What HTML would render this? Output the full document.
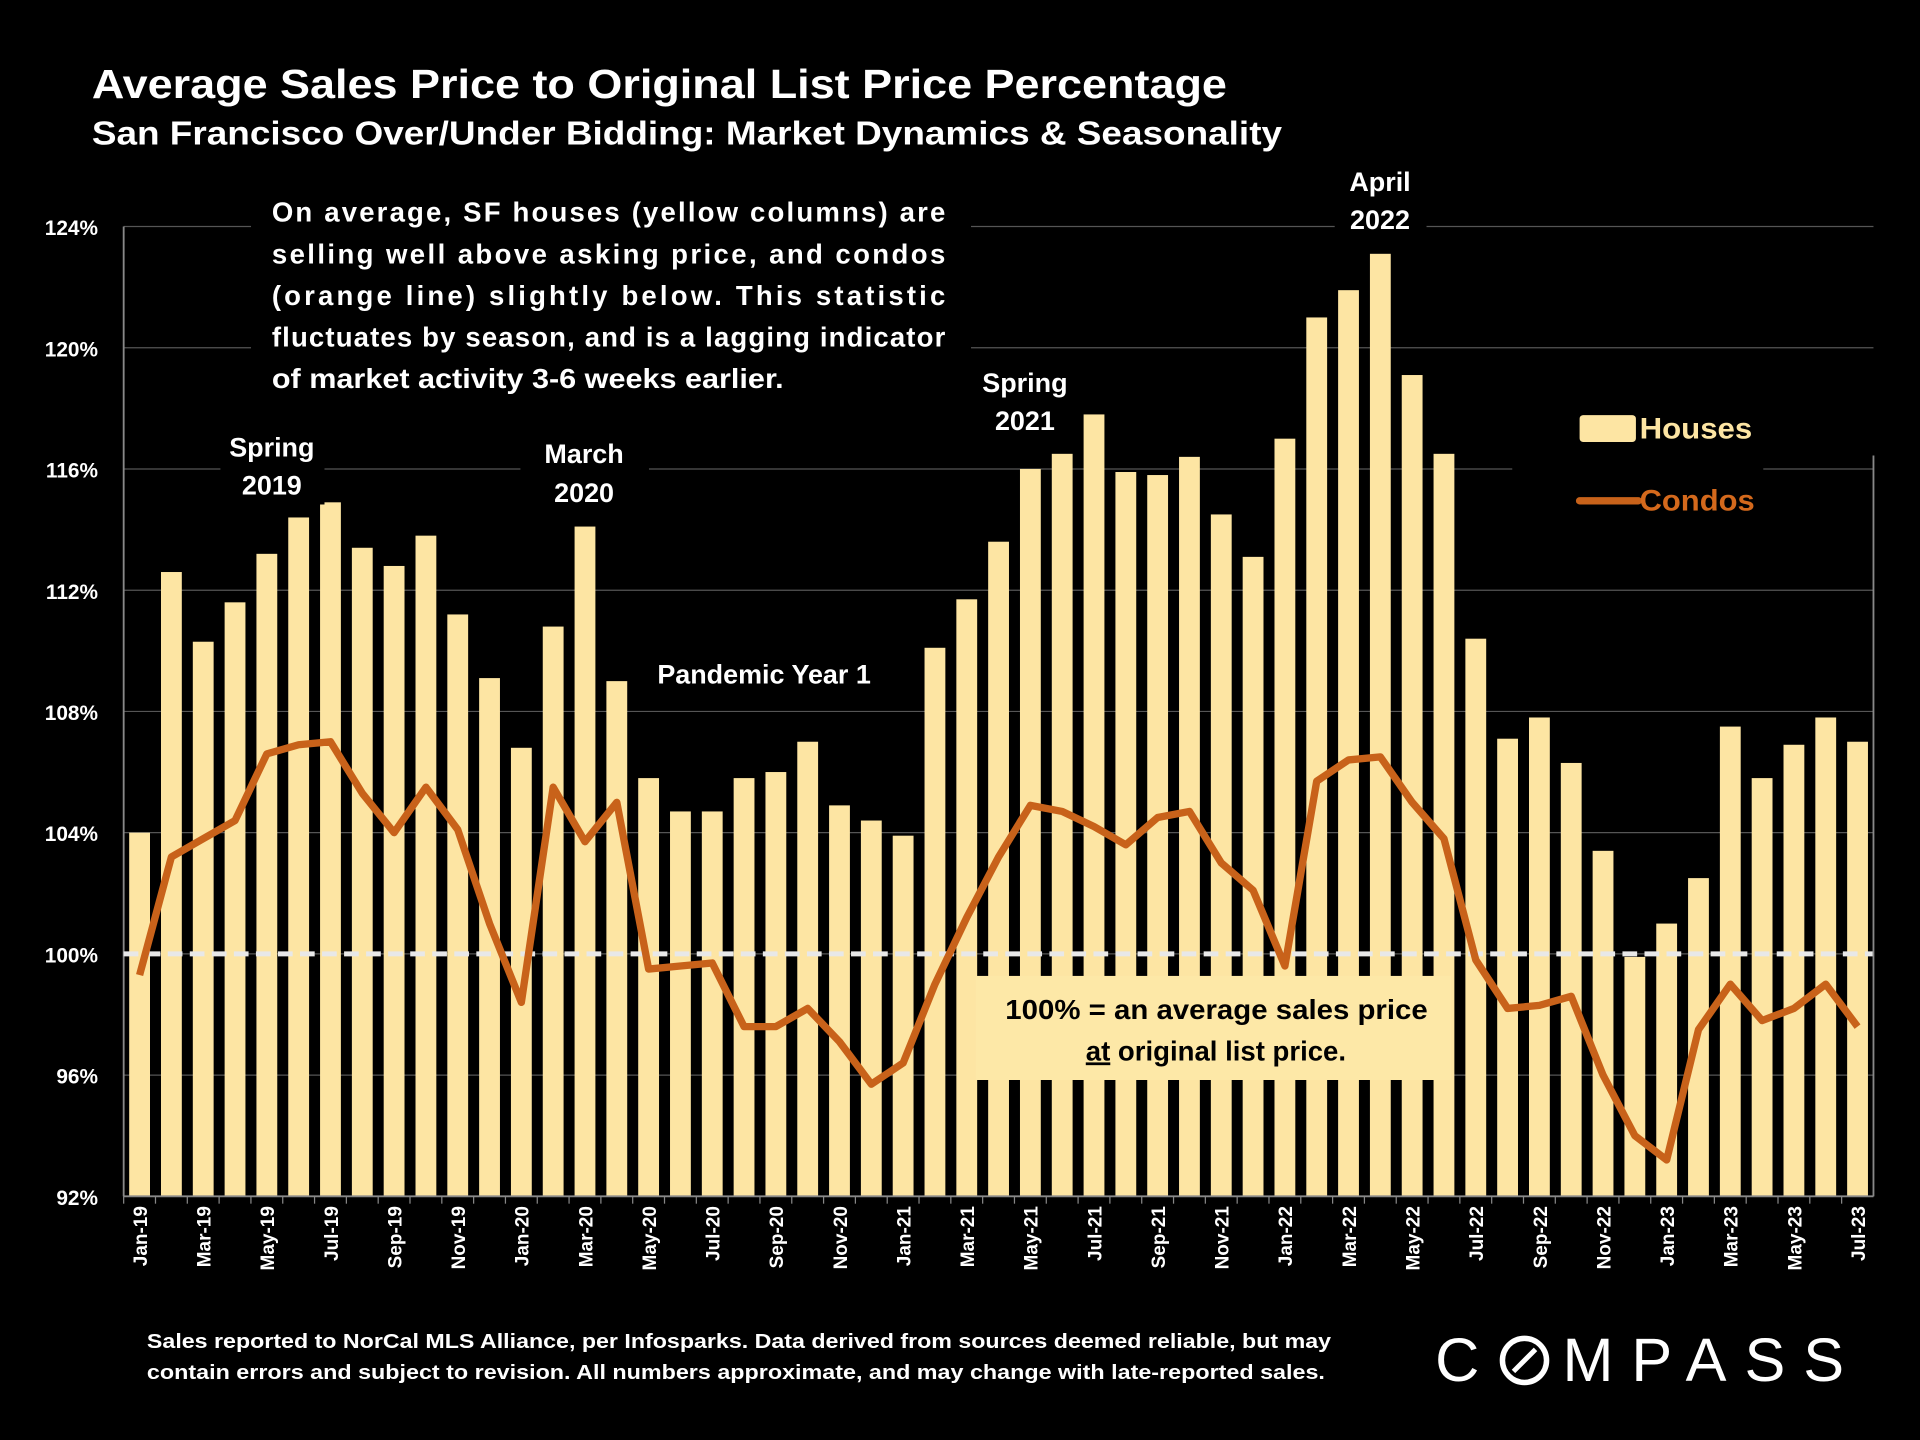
<!DOCTYPE html>
<html><head><meta charset="utf-8"><style>
html,body{margin:0;padding:0;background:#000;}
svg{display:block;font-family:"Liberation Sans",sans-serif;}
</style></head><body>
<svg id="chart" width="1920" height="1440" viewBox="0 0 1568 1176" xmlns="http://www.w3.org/2000/svg">
<rect width="1568" height="1176" fill="#000"/>
<text x="75" y="80" fill="#fff" font-size="33" font-weight="bold" textLength="927" lengthAdjust="spacingAndGlyphs">Average Sales Price to Original List Price Percentage</text>
<text x="75" y="118" fill="#fff" font-size="27" font-weight="bold" textLength="972" lengthAdjust="spacingAndGlyphs">San Francisco Over/Under Bidding: Market Dynamics &amp; Seasonality</text>
<g id="grid"></g>
<g id="yticks"></g>
<g id="bars"></g>
<line id="ref100" stroke="#e8e8e8" stroke-width="4" stroke-dasharray="12,6"/>
<polyline id="condo" fill="none" stroke="#c8621a" stroke-width="6" stroke-linejoin="round"/>
<g id="xaxis"></g>
<line x1="1530" y1="372" x2="1530" y2="977" stroke="#888" stroke-width="1.5"/>

<g>
<rect x="205" y="152" width="588" height="176" fill="#000"/>
<g fill="#fff" font-size="22.5" font-weight="bold">
<text x="222" y="181" textLength="550" lengthAdjust="spacing">On average, SF houses (yellow columns) are</text>
<text x="222" y="215" textLength="550" lengthAdjust="spacing">selling well above asking price, and condos</text>
<text x="222" y="249" textLength="550" lengthAdjust="spacing">(orange line) slightly below. This statistic</text>
<text x="222" y="283" textLength="550" lengthAdjust="spacing">fluctuates by season, and is a lagging indicator</text>
<text x="222" y="317" textLength="418" lengthAdjust="spacingAndGlyphs">of market activity 3-6 weeks earlier.</text>
</g></g>

<g fill="#fff" font-size="22" font-weight="bold" text-anchor="middle">
<g><rect x="180" y="350" width="85" height="62" fill="#000"/><text x="222" y="373">Spring</text><text x="222" y="404">2019</text></g>
<g><rect x="425" y="355" width="105" height="62" fill="#000"/><text x="477" y="378">March</text><text x="477" y="410">2020</text></g>
<g><rect x="530" y="537" width="190" height="30" fill="#000"/><text x="624" y="558">Pandemic Year 1</text></g>
<g><rect x="795" y="297" width="85" height="62" fill="#000"/><text x="837" y="320">Spring</text><text x="837" y="351">2021</text></g>
<g><rect x="1090" y="133" width="75" height="62" fill="#000"/><text x="1127" y="156">April</text><text x="1127" y="187">2022</text></g>
</g>

<g>
<rect x="1235" y="325" width="205" height="115" fill="#000"/>
<g><rect x="1290" y="339" width="46" height="22" rx="3" fill="#fde5a3"/><text x="1339" y="358" fill="#fde5a3" font-size="24" font-weight="bold" textLength="92" lengthAdjust="spacingAndGlyphs">Houses</text></g>
<g><line x1="1290" y1="409" x2="1338" y2="409" stroke="#c8621a" stroke-width="6" stroke-linecap="round"/><text x="1339" y="417" fill="#d4691c" font-size="24" font-weight="bold" textLength="94" lengthAdjust="spacingAndGlyphs">Condos</text></g>
</g>

<g>
<rect x="797" y="797" width="388" height="85" fill="#fde8a7"/>
<text x="821" y="832" font-size="22.5" font-weight="bold" fill="#000" textLength="345" lengthAdjust="spacingAndGlyphs">100% = an average sales price</text>
<text x="993" y="866" font-size="22.5" font-weight="bold" text-anchor="middle" fill="#000"><tspan text-decoration="underline">at</tspan> original list price.</text>
</g>

<g fill="#fff" font-size="16.5" font-weight="bold">
<text x="120" y="1101" textLength="967" lengthAdjust="spacingAndGlyphs">Sales reported to NorCal MLS Alliance, per Infosparks. Data derived from sources deemed reliable, but may</text>
<text x="120" y="1126" textLength="962" lengthAdjust="spacingAndGlyphs">contain errors and subject to revision. All numbers approximate, and may change with late-reported sales.</text>
</g>
<g>
<text x="1172" y="1128" fill="#fff" font-size="50" letter-spacing="9">C</text>
<circle cx="1245" cy="1111" r="18" fill="none" stroke="#fff" stroke-width="4.5"/>
<line x1="1236" y1="1120" x2="1254" y2="1102" stroke="#fff" stroke-width="4"/>
<text x="1276" y="1128" fill="#fff" font-size="50" textLength="230" lengthAdjust="spacing">MPASS</text>
</g>

<script>
const months=["Jan-19","Feb-19","Mar-19","Apr-19","May-19","Jun-19","Jul-19","Aug-19","Sep-19","Oct-19","Nov-19","Dec-19","Jan-20","Feb-20","Mar-20","Apr-20","May-20","Jun-20","Jul-20","Aug-20","Sep-20","Oct-20","Nov-20","Dec-20","Jan-21","Feb-21","Mar-21","Apr-21","May-21","Jun-21","Jul-21","Aug-21","Sep-21","Oct-21","Nov-21","Dec-21","Jan-22","Feb-22","Mar-22","Apr-22","May-22","Jun-22","Jul-22","Aug-22","Sep-22","Oct-22","Nov-22","Dec-22","Jan-23","Feb-23","Mar-23","Apr-23","May-23","Jun-23","Jul-23"];
const houses=[104.0,112.6,110.3,111.6,113.2,114.4,114.9,113.4,112.8,113.8,111.2,109.1,106.8,110.8,114.1,109.0,105.8,104.7,104.7,105.8,106.0,107.0,104.9,104.4,103.9,110.1,111.7,113.6,116.0,116.5,117.8,115.9,115.8,116.4,114.5,113.1,117.0,121.0,121.9,123.1,119.1,116.5,110.4,107.1,107.8,106.3,103.4,99.9,101.0,102.5,107.5,105.8,106.9,107.8,107.0];
const condos=[99.3,103.2,103.8,104.4,106.6,106.9,107.0,105.3,104.0,105.5,104.1,101.0,98.4,105.5,103.7,105.0,99.5,99.6,99.7,97.6,97.6,98.2,97.1,95.7,96.4,99.0,101.2,103.2,104.9,104.7,104.2,103.6,104.5,104.7,103.0,102.1,99.6,105.7,106.4,106.5,105.0,103.8,99.8,98.2,98.3,98.6,96.0,94.0,93.2,97.5,99.0,97.8,98.2,99.0,97.6];
const yTicks=[92,96,100,104,108,112,116,120,124];

const NS="http://www.w3.org/2000/svg";
const X0=114,X1=1517,L=101,R=1530,YB=977,YT=185,VMIN=92,VMAX=124;
const x=i=>X0+i*(X1-X0)/(months.length-1);
const y=v=>YB-(v-VMIN)*(YB-YT)/(VMAX-VMIN);
function mk(tag,attrs,parent){const e=document.createElementNS(NS,tag);for(const k in attrs)e.setAttribute(k,attrs[k]);parent.appendChild(e);return e;}

const grid=document.getElementById('grid'),yt=document.getElementById('yticks');
yTicks.forEach(v=>{
  const g=mk('line',{x1:L,x2:R,y1:y(v),y2:y(v),stroke:'#555','stroke-width':1},grid);
  
  
  const t=mk('text',{x:80,y:y(v)+7,fill:'#fff','font-size':17,'font-weight':'bold','text-anchor':'end'},yt);
  t.textContent=v+'%';
  
  
});
mk('line',{x1:L,x2:L,y1:YT,y2:YB,stroke:'#888','stroke-width':1.5},yt);

const bars=document.getElementById('bars');
houses.forEach((v,i)=>{
  const b=mk('rect',{x:x(i)-8.5,y:y(v),width:17,height:YB-y(v),fill:'#fde5a3'},bars);
  
  
});
const r=document.getElementById('ref100');
r.setAttribute('x1',L);r.setAttribute('x2',R);r.setAttribute('y1',y(100));r.setAttribute('y2',y(100));
document.getElementById('condo').setAttribute('points',condos.map((v,i)=>x(i)+','+y(v)).join(' '));

const xa=document.getElementById('xaxis');
mk('line',{x1:L,x2:R,y1:YB,y2:YB,stroke:'#888','stroke-width':1.5},xa);
months.forEach((m,i)=>{
  mk('line',{x1:x(i)-13,x2:x(i)-13,y1:YB,y2:YB+6,stroke:'#888','stroke-width':1},xa);
  if(i%2===0){
    const t=mk('text',{transform:'translate('+(x(i)+6)+','+(YB+8)+') rotate(-90)',fill:'#fff','font-size':15.5,'font-weight':'bold','text-anchor':'end'},xa);
    t.textContent=m;
    
    
  }
});
</script>
</svg>
</body></html>
